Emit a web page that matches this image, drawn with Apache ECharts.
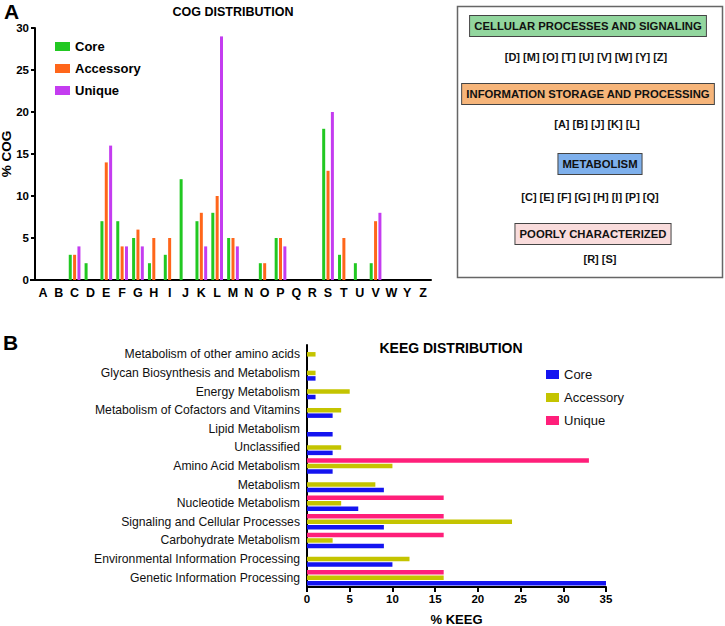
<!DOCTYPE html>
<html>
<head>
<meta charset="utf-8">
<script src="https://cdn.jsdelivr.net/npm/echarts@6/dist/echarts.min.js"></script>
<style>
  html, body { margin: 0; padding: 0; background: #fff; }
  #main { width: 725px; height: 626px; }
</style>
</head>
<body>
<div id="main"></div>
<script>
// COG distribution (panel A)
var cogCategories = ['A', 'B', 'C', 'D', 'E', 'F', 'G', 'H', 'I', 'J', 'K', 'L', 'M', 'N', 'O', 'P', 'Q', 'R', 'S', 'T', 'U', 'V', 'W', 'Y', 'Z'];
var cogCore      = [0, 0, 3, 2, 7, 7, 5, 2, 3, 12, 7, 8, 5, 0, 2, 5, 0, 0, 18, 3, 2, 2, 0, 0, 0];
var cogAccessory = [0, 0, 3, 0, 14, 4, 6, 5, 5, 0, 8, 10, 5, 0, 2, 5, 0, 0, 13, 5, 0, 7, 0, 0, 0];
var cogUnique    = [0, 0, 4, 0, 16, 4, 4, 0, 0, 0, 4, 29, 4, 0, 0, 4, 0, 0, 20, 0, 0, 8, 0, 0, 0];

// KEEG distribution (panel B), listed bottom to top
var keegCategories = [
    'Genetic Information Processing',
    'Environmental Information Processing',
    'Carbohydrate Metabolism',
    'Signaling and Cellular Processes',
    'Nucleotide Metabolism',
    'Metabolism',
    'Amino Acid Metabolism',
    'Unclassified',
    'Lipid Metabolism',
    'Metabolism of Cofactors and Vitamins',
    'Energy Metabolism',
    'Glycan Biosynthesis and Metabolism',
    'Metabolism of other amino acids'
];
var keegCore      = [35, 10, 9, 9, 6, 9, 3, 3, 3, 3, 1, 1, 0];
var keegAccessory = [16, 12, 3, 24, 4, 8, 10, 4, 0, 4, 5, 1, 1];
var keegUnique    = [16, 0, 16, 16, 16, 0, 33, 0, 0, 0, 0, 0, 0];

// COG functional groups shown in the box on the right
var groupNames = ['CELLULAR PROCESSES AND SIGNALING', 'INFORMATION STORAGE AND PROCESSING', 'METABOLISM', 'POORLY CHARACTERIZED'];
var groupMembers = ['[D] [M] [O] [T] [U] [V] [W] [Y] [Z]', '[A] [B] [J] [K] [L]', '[C] [E] [F] [G] [H] [I] [P] [Q]', '[R] [S]'];

var FONT = 'Arial, "Liberation Sans", sans-serif';
var groupColors = ['#92d69e', '#f6b57a', '#7eb0ec', '#f9dcdc'];
var groupY = [26, 94, 164, 234];
var memberY = [57, 124, 197, 259];
var groupX = [588, 588, 600, 593];
var memberX = [586, 597, 590, 600];

var chart = echarts.init(document.getElementById('main'), null, { renderer: 'svg' });

var graphics = [
    { type: 'text', left: 4, top: 1, style: { text: 'A', font: 'bold 21px ' + FONT, fill: '#000' } },
    { type: 'text', left: 3, top: 332, style: { text: 'B', font: 'bold 21px ' + FONT, fill: '#000' } },
    { type: 'rect', shape: { x: 457.5, y: 6.5, width: 265, height: 271 }, style: { fill: 'none', stroke: '#666', lineWidth: 1.5 } },
    // short stub of the COG x axis left of the y axis
    { type: 'line', shape: { x1: 30, y1: 280, x2: 36, y2: 280 }, style: { stroke: '#000', lineWidth: 2 } }
];
groupNames.forEach(function (name, i) {
    graphics.push({
        type: 'text', x: groupX[i], y: groupY[i],
        style: {
            text: name, font: 'bold 11.3px ' + FONT, fill: '#111',
            align: 'center', verticalAlign: 'middle',
            backgroundColor: groupColors[i], borderColor: '#444', borderWidth: 1,
            padding: [5, 4, 4, 4]
        }
    });
    graphics.push({
        type: 'text', x: memberX[i], y: memberY[i],
        style: { text: groupMembers[i], font: 'bold 11px ' + FONT, fill: '#111', align: 'center', verticalAlign: 'middle' }
    });
});

var option = {
    backgroundColor: '#fff',
    animation: false,
    textStyle: { fontFamily: FONT },
    title: [
        { text: 'COG DISTRIBUTION', left: 228, top: 0, textAlign: 'center',
          textStyle: { fontSize: 12.5, fontWeight: 'bold', color: '#000' } },
        { text: 'KEEG DISTRIBUTION', left: 446, top: 336, textAlign: 'center',
          textStyle: { fontSize: 14, fontWeight: 'bold', color: '#000' } }
    ],
    legend: [
        { data: ['Core', 'Accessory', 'Unique'], orient: 'vertical', left: 50, top: 35,
          itemWidth: 15, itemHeight: 9, itemGap: 9, icon: 'rect',
          textStyle: { fontSize: 13, fontWeight: 'bold', color: '#000' } },
        { data: ['Core ', 'Accessory ', 'Unique '], orient: 'vertical', left: 541, top: 363,
          itemWidth: 13, itemHeight: 9, itemGap: 10, icon: 'rect',
          textStyle: { fontSize: 13, color: '#111' } }
    ],
    grid: [
        { left: 35, top: 28, width: 396, height: 252, outerBoundsMode: 'none', containLabel: false },
        { left: 307, top: 345, width: 299, height: 242, outerBoundsMode: 'none', containLabel: false }
    ],
    xAxis: [
        { type: 'category', gridIndex: 0, data: cogCategories,
          axisLine: { lineStyle: { color: '#000', width: 2 } },
          axisTick: { alignWithLabel: true, length: 5, lineStyle: { color: '#000', width: 2 } },
          axisLabel: { fontSize: 12.5, fontWeight: 'bold', color: '#000', margin: 6, interval: 0 } },
        { type: 'value', gridIndex: 1, min: 0, max: 35, interval: 5,
          name: '% KEEG', nameLocation: 'middle', nameGap: 26, nameMoveOverlap: false,
          nameTextStyle: { fontSize: 13, fontWeight: 'bold', color: '#000' },
          splitLine: { show: false },
          axisLine: { show: true, lineStyle: { color: '#000', width: 2 } },
          axisTick: { show: true, length: 5, lineStyle: { color: '#000', width: 2 } },
          axisLabel: { fontSize: 11.5, fontWeight: 'bold', color: '#000', margin: 6 } }
    ],
    yAxis: [
        { type: 'value', gridIndex: 0, min: 0, max: 30, interval: 5,
          name: '% COG', nameLocation: 'middle', nameGap: 22, nameMoveOverlap: false,
          nameTextStyle: { fontSize: 13.5, fontWeight: 'bold', color: '#000' },
          splitLine: { show: false },
          axisLine: { show: true, lineStyle: { color: '#000', width: 2 } },
          axisTick: { show: true, length: 4, lineStyle: { color: '#000', width: 2 } },
          axisLabel: { fontSize: 11.5, fontWeight: 'bold', color: '#000', margin: 6 } },
        { type: 'category', gridIndex: 1, data: keegCategories,
          axisLine: { lineStyle: { color: '#000', width: 2 } },
          axisTick: { alignWithLabel: true, length: 5, lineStyle: { color: '#000', width: 1.5 } },
          axisLabel: { fontSize: 12.2, color: '#111', margin: 7, interval: 0 } }
    ],
    series: [
        { name: 'Core', type: 'bar', xAxisIndex: 0, yAxisIndex: 0, data: cogCore,
          barWidth: 3, barGap: '45%', itemStyle: { color: '#22c822' } },
        { name: 'Accessory', type: 'bar', xAxisIndex: 0, yAxisIndex: 0, data: cogAccessory,
          barWidth: 3, barGap: '45%', itemStyle: { color: '#ff661a' } },
        { name: 'Unique', type: 'bar', xAxisIndex: 0, yAxisIndex: 0, data: cogUnique,
          barWidth: 3, barGap: '45%', itemStyle: { color: '#c43cf0' } },
        // horizontal bars: first series sits on top, so Unique goes first
        { name: 'Unique ', type: 'bar', xAxisIndex: 1, yAxisIndex: 1, data: keegUnique,
          barWidth: 4.5, barGap: '22%', itemStyle: { color: '#ff1f7a' } },
        { name: 'Accessory ', type: 'bar', xAxisIndex: 1, yAxisIndex: 1, data: keegAccessory,
          barWidth: 4.5, barGap: '22%', itemStyle: { color: '#c4c400' } },
        { name: 'Core ', type: 'bar', xAxisIndex: 1, yAxisIndex: 1, data: keegCore,
          barWidth: 4.5, barGap: '22%', itemStyle: { color: '#1414f0' } }
    ],
    graphic: graphics
};

chart.setOption(option);
</script>
</body>
</html>
